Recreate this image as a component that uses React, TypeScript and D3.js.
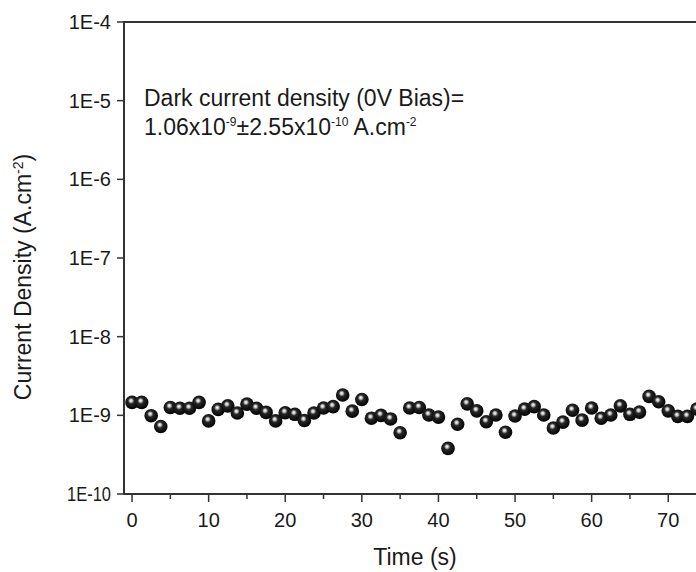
import React, { useEffect, useRef } from 'react';
import * as d3 from 'd3';

// time step 1.25 s, current density in A/cm^2
const times: number[] = Array.from({ length: 60 }, (_, i) => i * 1.25);
const densities: number[] = [
  1.46e-9, 1.46e-9, 0.99e-9, 0.72e-9, 1.26e-9, 1.23e-9, 1.23e-9, 1.46e-9, 0.85e-9, 1.19e-9,
  1.32e-9, 1.07e-9, 1.39e-9, 1.23e-9, 1.09e-9, 0.85e-9, 1.08e-9, 1.03e-9, 0.86e-9, 1.07e-9,
  1.24e-9, 1.29e-9, 1.81e-9, 1.13e-9, 1.59e-9, 0.92e-9, 1.0e-9, 0.9e-9, 0.6e-9, 1.24e-9,
  1.26e-9, 1.01e-9, 0.95e-9, 0.38e-9, 0.77e-9, 1.4e-9, 1.14e-9, 0.83e-9, 1.01e-9, 0.61e-9,
  0.98e-9, 1.2e-9, 1.29e-9, 1.01e-9, 0.69e-9, 0.82e-9, 1.16e-9, 0.87e-9, 1.24e-9, 0.92e-9,
  1.01e-9, 1.32e-9, 1.03e-9, 1.1e-9, 1.74e-9, 1.49e-9, 1.14e-9, 0.97e-9, 0.97e-9, 1.2e-9,
];
const xTicks: number[] = [0, 10, 20, 30, 40, 50, 60, 70];
const xMinorTicks: number[] = [5, 15, 25, 35, 45, 55, 65, 75];
const yTicks: number[] = [1e-10, 1e-9, 1e-8, 1e-7, 1e-6, 1e-5, 1e-4];

const App = () => {
  const ref = useRef<SVGSVGElement>(null);

  useEffect(() => {
    const width = 696;
    const font = 'Liberation Sans, Arial, sans-serif';
    const axisColor = '#333';
    const textColor = '#1a1a1a';

    const svg = d3.select(ref.current);
    svg.selectAll('*').remove();

    const x = d3.scaleLinear().domain([-1.05, 80]).range([124, 124 + 81.05 * 7.66]);
    const y = d3.scaleLog().domain([1e-10, 1e-4]).range([494, 22]);

    const defs = svg.append('defs');
    const grad = defs
      .append('radialGradient')
      .attr('id', 'ball')
      .attr('cx', '0.45')
      .attr('cy', '0.42')
      .attr('r', '0.6')
      .attr('fx', '0.42')
      .attr('fy', '0.36');
    grad.append('stop').attr('offset', '0%').attr('stop-color', '#ffffff');
    grad.append('stop').attr('offset', '16%').attr('stop-color', '#c8c8c8');
    grad.append('stop').attr('offset', '38%').attr('stop-color', '#262626');
    grad.append('stop').attr('offset', '100%').attr('stop-color', '#000');

    // frame: left, bottom, top
    svg.append('line')
      .attr('x1', x(-1.05)).attr('x2', x(-1.05))
      .attr('y1', y(1e-4)).attr('y2', y(1e-10))
      .attr('stroke', axisColor).attr('stroke-width', 2);
    svg.append('line')
      .attr('x1', x(-1.05) - 1).attr('x2', width)
      .attr('y1', y(1e-10)).attr('y2', y(1e-10))
      .attr('stroke', axisColor).attr('stroke-width', 2);
    svg.append('line')
      .attr('x1', x(-1.05) - 1).attr('x2', width)
      .attr('y1', y(1e-4)).attr('y2', y(1e-4))
      .attr('stroke', axisColor).attr('stroke-width', 2);

    // y ticks
    const yg = svg.append('g');
    yg.selectAll('line')
      .data(yTicks)
      .enter()
      .append('line')
      .attr('x1', x(-1.05) - 7)
      .attr('x2', x(-1.05))
      .attr('y1', (d) => y(d))
      .attr('y2', (d) => y(d))
      .attr('stroke', axisColor)
      .attr('stroke-width', 1.5);
    yg.selectAll('text')
      .data(yTicks)
      .enter()
      .append('text')
      .attr('x', x(-1.05) - 13)
      .attr('y', (d) => y(d))
      .attr('dy', '0.35em')
      .attr('text-anchor', 'end')
      .attr('font-family', font)
      .attr('font-size', 20)
      .attr('fill', textColor)
      .each(function (d) {
        const label = `1E${Math.round(Math.log10(d))}`;
        const t = d3.select(this).text(label);
        // the long label is drawn condensed in the original
        if (label.length > 4) t.attr('textLength', 44).attr('lengthAdjust', 'spacingAndGlyphs');
      });

    // x ticks
    const xg = svg.append('g');
    xg.selectAll('line.major')
      .data(xTicks)
      .enter()
      .append('line')
      .attr('class', 'major')
      .attr('x1', (d) => x(d))
      .attr('x2', (d) => x(d))
      .attr('y1', y(1e-10))
      .attr('y2', y(1e-10) + 8)
      .attr('stroke', axisColor)
      .attr('stroke-width', 1.5);
    xg.selectAll('line.minor')
      .data(xMinorTicks)
      .enter()
      .append('line')
      .attr('class', 'minor')
      .attr('x1', (d) => x(d))
      .attr('x2', (d) => x(d))
      .attr('y1', y(1e-10))
      .attr('y2', y(1e-10) + 5)
      .attr('stroke', axisColor)
      .attr('stroke-width', 1.5);
    xg.selectAll('text')
      .data(xTicks)
      .enter()
      .append('text')
      .attr('x', (d) => x(d))
      .attr('y', y(1e-10) + 33)
      .attr('text-anchor', 'middle')
      .attr('font-family', font)
      .attr('font-size', 20)
      .attr('fill', textColor)
      .text((d) => d);

    // axis titles
    svg.append('text')
      .attr('x', 415)
      .attr('y', 565)
      .attr('text-anchor', 'middle')
      .attr('font-family', font)
      .attr('font-size', 23)
      .attr('fill', textColor)
      .text('Time (s)');

    const yt = svg.append('text')
      .attr('transform', `translate(31,277) rotate(-90)`)
      .attr('text-anchor', 'middle')
      .attr('font-family', font)
      .attr('font-size', 23)
      .attr('fill', textColor);
    yt.append('tspan').text('Current Density (A.cm');
    yt.append('tspan').attr('dy', -8).attr('font-size', 14).text('-2');
    yt.append('tspan').attr('dy', 8).text(')');

    // annotation
    const ann = svg.append('g').attr('font-family', font).attr('font-size', 23).attr('fill', textColor);
    ann.append('text').attr('x', 144).attr('y', 106).text('Dark current density (0V Bias)=');
    const l2 = ann.append('text').attr('x', 144).attr('y', 135);
    l2.append('tspan').text('1.06x10');
    l2.append('tspan').attr('dy', -9).attr('font-size', 12).text('-9');
    l2.append('tspan').attr('dy', 9).text('±2.55x10');
    l2.append('tspan').attr('dy', -9).attr('font-size', 12).text('-10');
    l2.append('tspan').attr('dy', 9).text(' A.cm');
    l2.append('tspan').attr('dy', -9).attr('font-size', 12).text('-2');

    // data balls
    svg.append('g')
      .selectAll('circle')
      .data(times.map((t, i) => ({ t, v: densities[i] })))
      .enter()
      .append('circle')
      .attr('cx', (d) => x(d.t))
      .attr('cy', (d) => y(d.v))
      .attr('r', 6.8)
      .attr('fill', 'url(#ball)');
  }, []);

  return (
    <svg
      ref={ref}
      width={696}
      height={572}
      style={{ position: 'absolute', left: 0, top: 0, background: '#fff' }}
    />
  );
};

export default App;
